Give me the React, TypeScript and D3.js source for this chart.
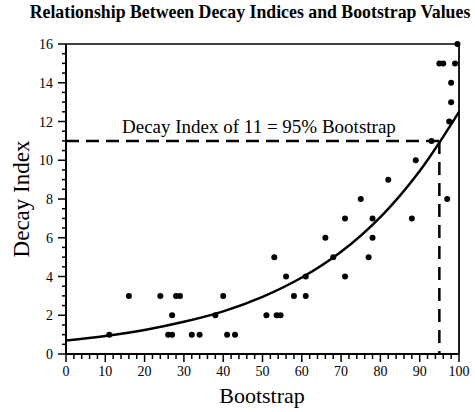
import React from "react";
import * as d3 from "d3";

const title = "Relationship Between Decay Indices and Bootstrap Values";
const xLabel = "Bootstrap";
const yLabel = "Decay Index";
const annotation = "Decay Index of 11 = 95% Bootstrap";

const bootstrap = [11, 16, 24, 26, 27, 27, 28, 29, 32, 34, 38, 40, 41, 43, 51, 53.6, 54.6, 53, 56, 58, 61, 61, 66, 68, 71, 71, 75, 77, 78, 78, 82, 88, 89, 93, 95, 96, 97, 97.5, 98, 98, 99, 99.6];
const decay = [1, 3, 3, 1, 1, 2, 3, 3, 1, 1, 2, 3, 1, 1, 2, 2, 2, 5, 4, 3, 4, 3, 6, 5, 7, 4, 8, 5, 6, 7, 9, 7, 10, 11, 15, 15, 8, 12, 13, 14, 15, 16];

const fitX = [0, 10, 20, 30, 40, 50, 60, 70, 80, 90, 100];
const fitY = [0.7, 0.93, 1.24, 1.66, 2.2, 2.95, 3.95, 5.28, 7.07, 9.45, 12.5];

const cutoffX = 95;
const cutoffY = 11;

const xTicks = [0, 10, 20, 30, 40, 50, 60, 70, 80, 90, 100];
const yTicks = [0, 2, 4, 6, 8, 10, 12, 14, 16];

export default function App() {
  const W = 475, H = 412;
  const x = d3.scaleLinear().domain([0, 100]).range([66, 459]);
  const y = d3.scaleLinear().domain([0, 16]).range([354, 44]);
  const font = "'Liberation Serif', 'Times New Roman', serif";

  const line = d3
    .line<number>()
    .x((_, i) => x(fitX[i]))
    .y((d) => y(d))
    .curve(d3.curveCatmullRom);

  const xMinor = d3.range(0, 101, 2);
  const yMinor = d3.range(0, 16.01, 0.5);

  return (
    <svg width={W} height={H} style={{ position: "absolute", left: 0, top: 0, background: "#fff" }}>
      <text x={250} y={18} textAnchor="middle" fontFamily={font} fontWeight="bold" fontSize={17.8}>
        {title}
      </text>
      {/* frame */}
      <line x1={x(0)} x2={x(100)} y1={y(16)} y2={y(16)} stroke="#000" strokeWidth={1.5} />
      <line x1={x(100)} x2={x(100)} y1={y(16)} y2={y(0)} stroke="#000" strokeWidth={1.8} />
      <line x1={x(0)} x2={x(0)} y1={y(16)} y2={y(0)} stroke="#000" strokeWidth={2} />
      <line x1={x(0)} x2={x(100)} y1={y(0)} y2={y(0)} stroke="#000" strokeWidth={2} />
      {/* y ticks */}
      {yMinor.map((v) => (
        <line key={"ym" + v} x1={x(0)} x2={x(0) - (v % 2 === 0 ? 8 : 4)} y1={y(v)} y2={y(v)} stroke="#000" strokeWidth={1.5} />
      ))}
      {yTicks.map((v) => (
        <text key={"yt" + v} x={x(0) - 13} y={y(v) + 5} textAnchor="end" fontFamily={font} fontSize={14}>
          {v}
        </text>
      ))}
      {/* x ticks */}
      {xMinor.map((v) => (
        <line key={"xm" + v} x1={x(v)} x2={x(v)} y1={y(0)} y2={y(0) + (v % 10 === 0 ? 8 : 5)} stroke="#000" strokeWidth={1.5} />
      ))}
      {xTicks.map((v) => (
        <text key={"xt" + v} x={x(v)} y={y(0) + 22} textAnchor="middle" fontFamily={font} fontSize={14}>
          {v}
        </text>
      ))}
      <text x={262} y={403} textAnchor="middle" fontFamily={font} fontSize={22}>
        {xLabel}
      </text>
      <text transform={`translate(29,${y(8)}) rotate(-90)`} textAnchor="middle" fontFamily={font} fontSize={23}>
        {yLabel}
      </text>
      {/* dashed reference lines */}
      <line x1={x(0)} x2={x(cutoffX)} y1={y(cutoffY)} y2={y(cutoffY)} stroke="#000" strokeWidth={2.5} strokeDasharray="13,7" />
      <line x1={x(cutoffX)} x2={x(cutoffX)} y1={y(cutoffY)} y2={y(0)} stroke="#000" strokeWidth={2.5} strokeDasharray="13,8" />
      <text x={122} y={133} fontFamily={font} fontSize={19}>
        {annotation}
      </text>
      {/* fit curve */}
      <path d={line(fitY) || ""} fill="none" stroke="#000" strokeWidth={2.5} />
      {/* points */}
      {bootstrap.map((b, i) => (
        <circle key={"p" + i} cx={x(b)} cy={y(decay[i])} r={3} fill="#000" />
      ))}
    </svg>
  );
}
